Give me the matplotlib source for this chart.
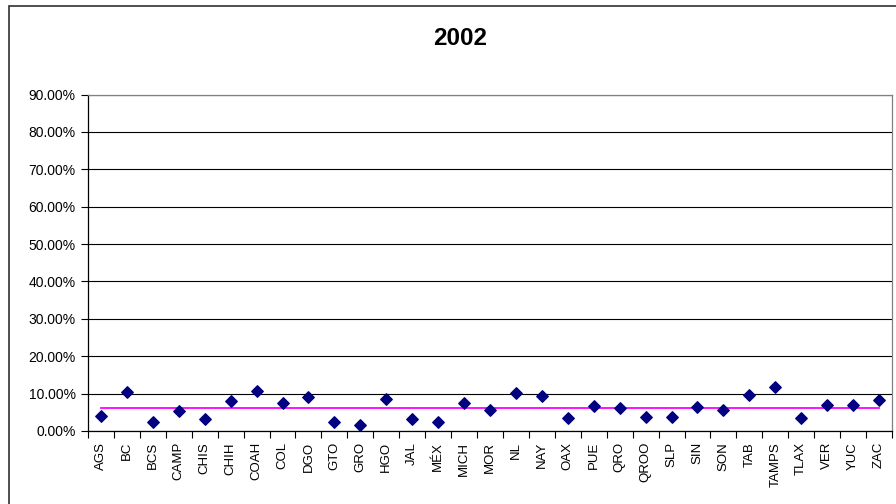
import matplotlib
matplotlib.use('Agg')
from matplotlib import pyplot as plt
from matplotlib.ticker import FuncFormatter, FixedLocator
from matplotlib.patches import Rectangle

#data######################################################################
estados = ['AGS', 'BC', 'BCS', 'CAMP', 'CHIS', 'CHIH', 'COAH', 'COL', 'DGO',
           'GTO', 'GRO', 'HGO', 'JAL', 'MÉX', 'MICH', 'MOR', 'NL', 'NAY',
           'OAX', 'PUE', 'QRO', 'QROO', 'SLP', 'SIN', 'SON', 'TAB', 'TAMPS',
           'TLAX', 'VER', 'YUC', 'ZAC']
valores = [3.9, 10.3, 2.3, 5.4, 3.3, 7.9, 10.6, 7.5, 9.0,
           2.3, 1.7, 8.5, 3.1, 2.3, 7.4, 5.7, 10.2, 9.3,
           3.5, 6.6, 6.1, 3.75, 3.75, 6.3, 5.7, 9.5, 11.8,
           3.5, 7.0, 7.0, 8.2]
promedio = 6.25
titulo = '2002'

#figure####################################################################
plt.rcParams['font.family'] = ['Liberation Sans', 'DejaVu Sans']
fig = plt.figure(figsize=(8.96, 5.04), dpi=100)

# outer chart border (cropped on right and bottom)
fig.patches.append(Rectangle((9 / 896, -0.05), 1.2, 1 - 5.5 / 504 + 0.05,
                             transform=fig.transFigure, fill=False,
                             edgecolor='#303030', linewidth=1.2))

ax = fig.add_axes([88 / 896, 1 - 431 / 504, (892 - 88) / 896, (431 - 94.5) / 504])

x = list(range(len(estados)))
ax.plot(x, [promedio] * len(x), color='#FF00FF', linewidth=1.3, zorder=2)
ax.scatter(x, valores, marker='D', s=34, color='#000080', zorder=3)

ax.set_xlim(-0.5, len(estados) - 0.5)
ax.set_ylim(0, 90)
ax.set_yticks(range(0, 91, 10))
ax.yaxis.set_major_formatter(FuncFormatter(lambda v, p: '%.2f%%' % v))
ax.yaxis.grid(True, color='black', linewidth=0.8)
ax.set_axisbelow(True)

ax.set_xticks(x)
ax.set_xticklabels(estados, rotation=90, fontsize=9.5)
ax.xaxis.set_minor_locator(FixedLocator([i - 0.5 for i in range(len(estados) + 1)]))
ax.tick_params(axis='x', which='major', length=0, pad=8)
ax.tick_params(axis='x', which='minor', length=5, width=0.8, direction='out')
ax.tick_params(axis='y', length=5, width=0.8, labelsize=10, pad=4)

ax.spines['top'].set_color('#808080')
ax.spines['right'].set_color('#808080')
for s in ax.spines.values():
    s.set_linewidth(0.9)

fig.text(460 / 896, 1 - 38.5 / 504, titulo, ha='center', va='center',
         fontsize=17.5, fontweight='bold')

plt.savefig('out.png', dpi=100)
